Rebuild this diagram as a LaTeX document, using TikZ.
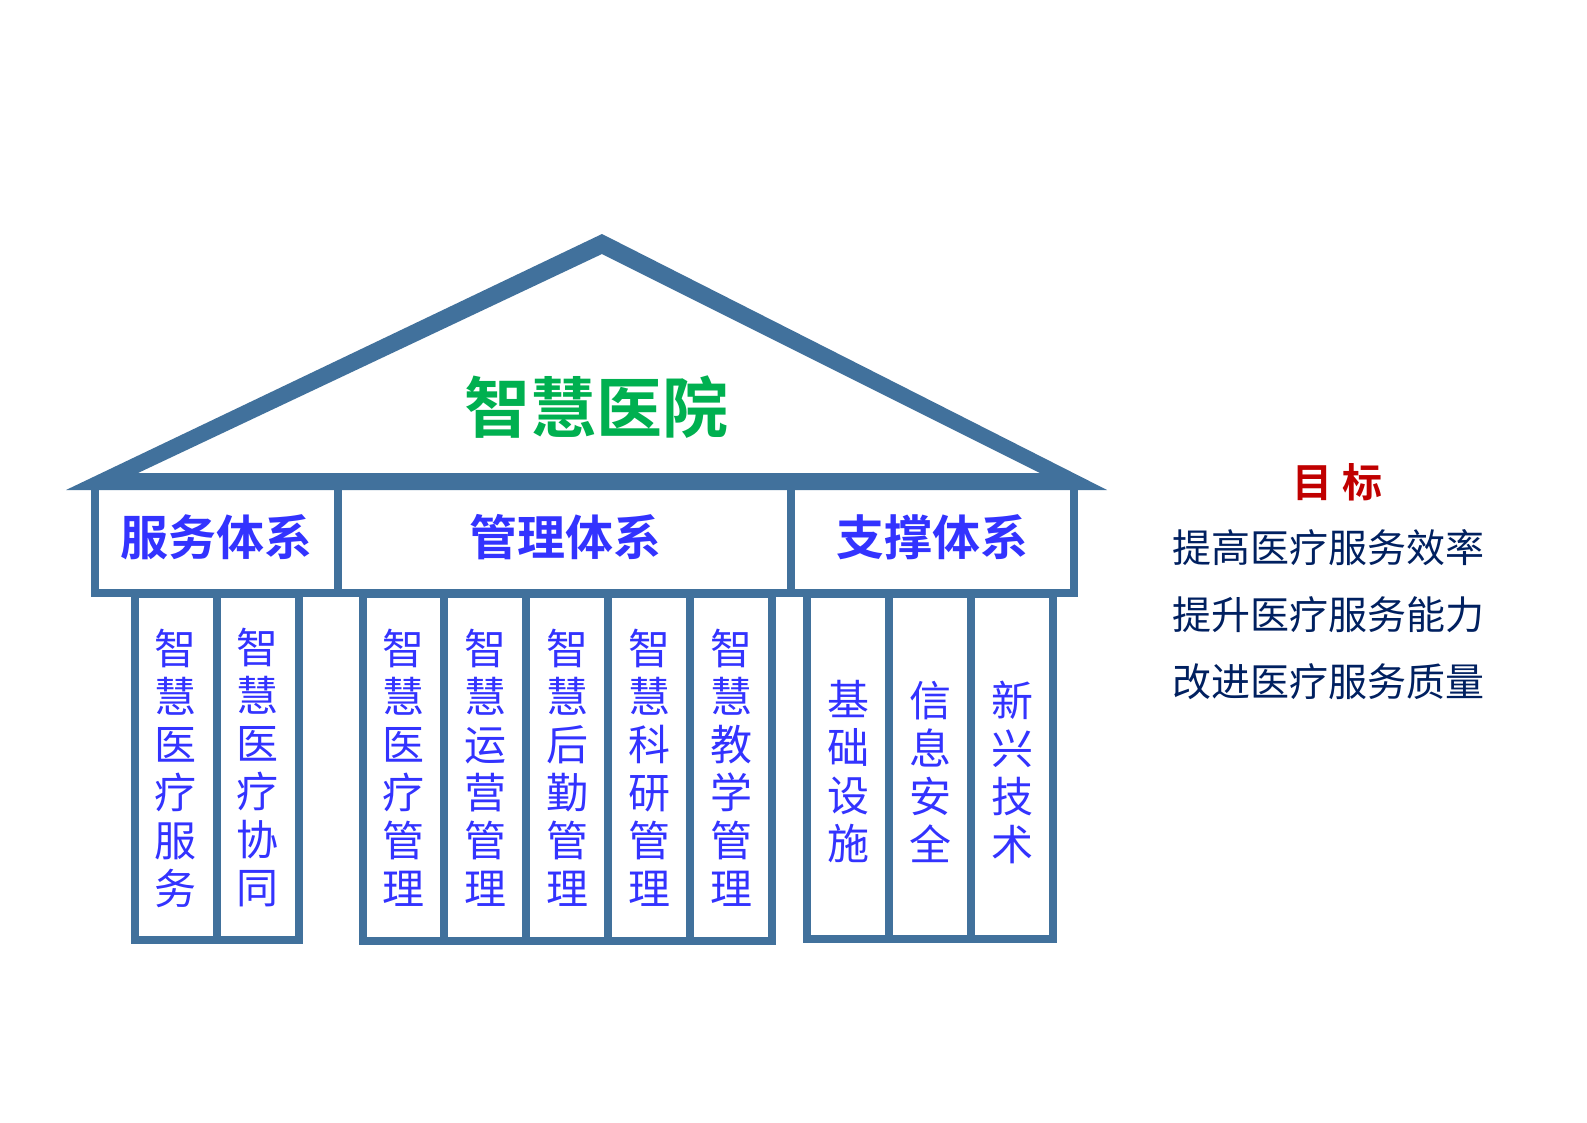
\documentclass[tikz,border=0pt]{standalone}
\usepackage{fontspec}
\newfontfamily\cjk{Noto Sans CJK SC}
\newfontfamily\cjkb{Noto Sans CJK SC Bold}
\definecolor{roofc}{HTML}{41719C}
\definecolor{txtblue}{HTML}{3333FF}
\definecolor{titlegreen}{HTML}{00B050}
\definecolor{goalred}{HTML}{C00000}
\definecolor{goalnavy}{HTML}{002060}
\begin{document}
\begin{tikzpicture}[x=1pt,y=-1pt,
  wall/.style={draw=roofc,line width=8pt,line join=miter},
  headtxt/.style={inner sep=0pt,text=txtblue,font=\cjkb\fontsize{48}{52}\selectfont},
  coltxt/.style={inner sep=0pt,align=center,text=txtblue,font=\cjk\fontsize{42}{48}\selectfont},
  goaltxt/.style={inner sep=0pt,text=goalnavy,font=\cjk\fontsize{39}{44}\selectfont}]
\useasboundingbox (0,0) rectangle (1587,1122);
\fill[white] (0,0) rectangle (1587,1122);
% roof
\fill[roofc,even odd rule] (66,490) -- (602,234) -- (1107,490) -- cycle
  (138,473) -- (602,254) -- (1040,473) -- cycle;
% header frame
\draw[wall] (94.5,488) -- (94.5,592.5) -- (1074,592.5) -- (1074,488);
\draw[wall] (338,488) -- (338,592.5);
\draw[wall] (791,488) -- (791,592.5);
% columns group 1
\draw[wall,fill=white] (134.5,594) rectangle (298.5,940);
\draw[wall] (216.5,594) -- (216.5,940);
% columns group 2
\draw[wall,fill=white] (362.5,594) rectangle (772,941);
\foreach \xx in {444,526,608,690} \draw[wall] (\xx,594) -- (\xx,941);
% columns group 3
\draw[wall,fill=white] (807,594) rectangle (1053,939);
\foreach \xx in {889,971} \draw[wall] (\xx,594) -- (\xx,939);
% title
\node[inner sep=0pt,text=titlegreen,font=\cjkb\fontsize{66}{70}\selectfont] (title) at (596,407) {智慧医院};
% headers
\node[headtxt] (h1) at (216,537) {服务体系};
\node[headtxt] (h2) at (565,537) {管理体系};
\node[headtxt] (h3) at (932,537) {支撑体系};
% column texts
\node[coltxt] (c1) at (175.5,768) {智\\慧\\医\\疗\\服\\务};
\node[coltxt] (c2) at (257.5,768) {智\\慧\\医\\疗\\协\\同};
\node[coltxt] (c3) at (403,768) {智\\慧\\医\\疗\\管\\理};
\node[coltxt] (c4) at (485,768) {智\\慧\\运\\营\\管\\理};
\node[coltxt] (c5) at (567,768) {智\\慧\\后\\勤\\管\\理};
\node[coltxt] (c6) at (649,768) {智\\慧\\科\\研\\管\\理};
\node[coltxt] (c7) at (731,768) {智\\慧\\教\\学\\管\\理};
\node[coltxt] (c8) at (848,772) {基\\础\\设\\施};
\node[coltxt] (c9) at (930,772) {信\\息\\安\\全};
\node[coltxt] (c10) at (1012,772) {新\\兴\\技\\术};
% goals
\node[inner sep=0pt,text=goalred,font=\cjkb\fontsize{40}{44}\selectfont] (goal) at (1337,482) {目\hspace{0.25em}标};
\node[goaltxt,anchor=west] (g1) at (1172,548) {提高医疗服务效率};
\node[goaltxt,anchor=west] (g2) at (1172,615) {提升医疗服务能力};
\node[goaltxt,anchor=west] (g3) at (1172,682) {改进医疗服务质量};
\end{tikzpicture}
\end{document}
